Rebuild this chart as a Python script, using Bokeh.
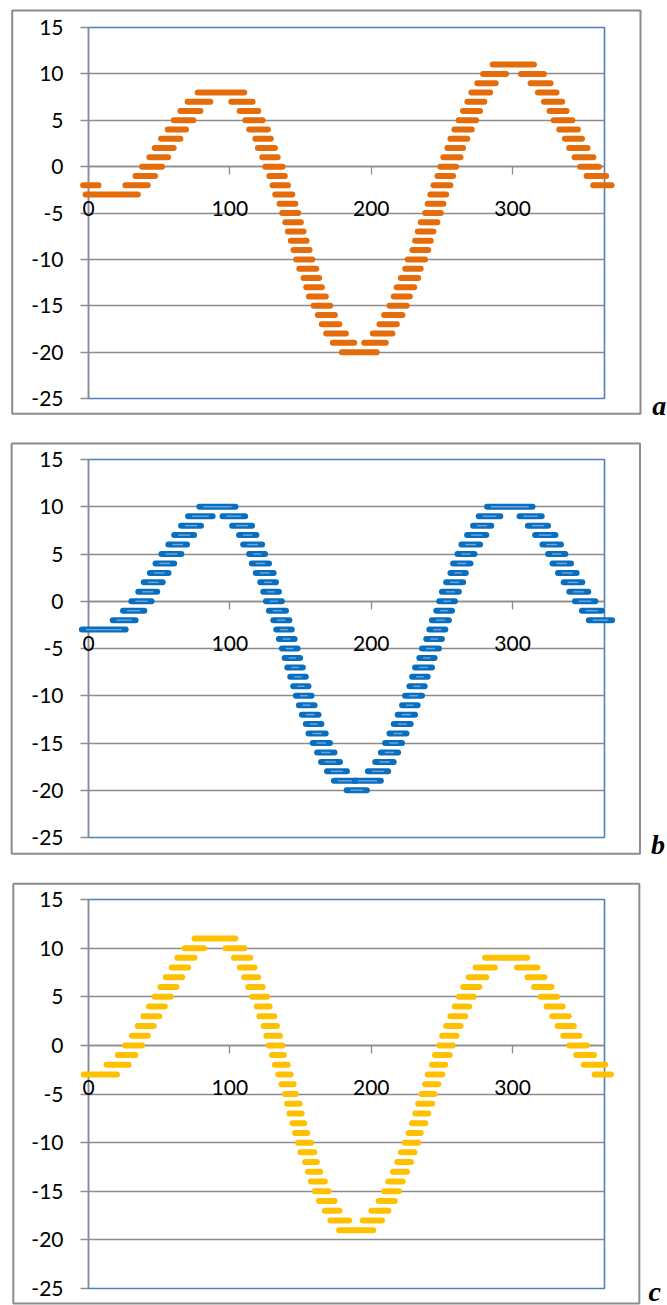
import numpy as np
from bokeh.plotting import figure
from bokeh.layouts import column
from bokeh.models import ColumnDataSource, Range1d, LinearAxis, Grid, FixedTicker
from bokeh.core.properties import value
from bokeh.embed import file_html
from bokeh.resources import INLINE

# ---------------- data ----------------
X_TICKS = [0, 100, 200, 300]
X_TICK_LABELS = ["0", "100", "200", "300"]
Y_TICKS = [-25, -20, -15, -10, -5, 0, 5, 10, 15]
Y_TICK_LABELS = ["-25", "-20", "-15", "-10", "-5", "0", "5", "10", "15"]
X_MAX = 365

# panel a: each dash = (level, visible start, visible end)
LEVEL_A = [-2, -3, -2, -1, 0, 1, 2, 3, 4, 5, 6, 7, 8,
           7, 6, 5, 4, 3, 2, 1, 0, -1, -2, -3, -4, -5, -6, -7, -8, -9, -10,
           -11, -12, -13, -14, -15, -16, -17, -18, -19, -20,
           -19, -18, -17, -16, -15, -14, -13, -12, -11, -10, -9, -8, -7, -6,
           -5, -4, -3, -2, -1, 0, 1, 2, 3, 4, 5, 6, 7, 8, 9, 10, 11,
           10, 9, 8, 7, 6, 5, 4, 3, 2, 1, 0, -1, -2]
START_A = [-5.9, -4.2, 24.0, 31.1, 35.8, 41.0, 44.7, 49.2, 53.9, 58.2, 62.9, 68.0, 75.1,
           98.9, 104.8, 108.8, 111.6, 115.9, 117.7, 120.8, 122.9, 125.8, 128.1, 130.0,
           133.0, 134.9, 137.1, 138.9, 141.0, 142.9, 144.8,
           147.0, 150.0, 151.9, 153.8, 157.1, 160.1, 162.9, 166.0, 170.7, 177.1,
           192.9, 199.0, 203.7, 207.0, 210.8, 213.8, 215.9, 218.8, 221.9, 223.7, 227.0,
           228.9, 230.8, 232.9,
           236.0, 237.8, 239.7, 241.9, 244.7, 246.8, 248.9, 251.7, 253.9, 256.7, 259.7,
           262.8, 265.9, 268.7, 272.9, 277.0, 283.8,
           303.8, 310.6, 315.8, 320.1, 324.0, 326.9, 330.9, 334.9, 337.9, 341.7, 345.7,
           350.2, 354.9]
END_A = [9.2, 37.0, 44.0, 49.2, 54.1, 58.4, 62.4, 67.1, 71.1, 76.3, 81.3, 88.3, 112.3,
         118.2, 122.2, 125.3, 129.0, 131.1, 134.0, 135.9, 139.4, 141.0, 143.2, 146.3,
         148.4, 150.5, 152.3, 154.2, 156.4, 158.5, 160.4,
         163.2, 165.3, 167.2, 170.0, 173.1, 176.4, 179.5, 184.2, 190.1, 206.0,
         212.4, 217.1, 220.2, 224.2, 227.2, 229.4, 232.5, 235.3, 237.1, 240.2, 242.4,
         244.2, 246.1, 248.9,
         251.3, 253.2, 255.1, 258.1, 260.0, 262.1, 265.2, 267.1, 270.1, 273.2, 276.3,
         279.1, 282.1, 286.2, 290.1, 297.5, 317.2,
         324.3, 329.0, 333.2, 337.2, 340.3, 344.3, 348.3, 351.2, 355.1, 359.2, 363.2,
         368.3, 372.1]

# panel b
LEVEL_B = [-3, -2, -1, 0, 1, 2, 3, 4, 5, 6, 7, 8, 9, 10,
           9, 8, 7, 6, 5, 4, 3, 2, 1, 0, -1, -2, -3, -4, -5, -6, -7, -8, -9, -10,
           -11, -12, -13, -14, -15, -16, -17, -18, -19, -20,
           -19, -18, -17, -16, -15, -14, -13, -12, -11, -10, -9, -8, -7, -6,
           -5, -4, -3, -2, -1, 0, 1, 2, 3, 4, 5, 6, 7, 8, 9, 10,
           9, 8, 7, 6, 5, 4, 3, 2, 1, 0, -1, -2]
START_B = [-6.8, 15.0, 22.3, 28.2, 33.1, 37.0, 41.3, 45.3, 49.5, 54.4, 58.5, 63.4, 68.3, 76.3,
           92.7, 99.5, 104.4, 107.3, 111.5, 113.4, 116.2, 119.4, 121.5, 123.4, 125.5, 128.6,
           130.7, 132.6, 134.7, 136.6, 138.5, 140.6, 142.7, 144.6,
           146.7, 148.8, 151.6, 153.5, 156.5, 159.6, 162.4, 166.6, 171.5, 180.5,
           185.6, 195.5, 200.7, 204.7, 207.7, 210.8, 213.8, 216.6, 219.7, 221.8, 224.9,
           226.8, 228.9, 231.9,
           233.8, 236.8, 239.0, 240.8, 243.9, 246.0, 247.9, 250.9, 253.9, 255.8, 258.9,
           261.7, 265.7, 269.9, 273.9, 279.8,
           302.8, 308.7, 313.8, 319.0, 323.0, 326.1, 330.0, 334.0, 338.0, 342.0, 346.9,
           351.8]
END_B = [28.4, 35.4, 41.6, 46.7, 50.7, 54.6, 58.7, 62.7, 67.8, 71.8, 76.8, 81.7, 89.9, 106.1,
         112.9, 117.8, 120.9, 124.9, 127.0, 129.8, 133.1, 134.7, 136.8, 138.9, 141.8, 144.2,
         145.9, 147.9, 150.0, 151.8, 153.7, 155.8, 157.7, 159.9,
         162.0, 164.8, 166.9, 169.9, 172.9, 176.1, 180.0, 184.9, 191.2, 199.0,
         208.9, 214.1, 218.0, 221.1, 223.9, 227.0, 230.0, 233.1, 234.9, 238.0, 239.9,
         242.0, 245.1, 246.9,
         250.0, 252.1, 254.5, 257.0, 259.2, 261.3, 264.1, 267.1, 269.0, 272.3, 275.1,
         279.1, 283.5, 287.0, 293.4, 316.2,
         322.7, 327.2, 332.4, 336.3, 339.4, 343.4, 347.4, 351.4, 355.6, 360.6, 365.2,
         372.5]

# panel c
LEVEL_C = [-3, -2, -1, 0, 1, 2, 3, 4, 5, 6, 7, 8, 9, 10, 11,
           10, 9, 8, 7, 6, 5, 4, 3, 2, 1, 0, -1, -2, -3, -4, -5, -6, -7, -8, -9, -10,
           -11, -12, -13, -14, -15, -16, -17, -18, -19,
           -18, -17, -16, -15, -14, -13, -12, -11, -10, -9, -8, -7, -6,
           -5, -4, -3, -2, -1, 0, 1, 2, 3, 4, 5, 6, 7, 8, 9,
           8, 7, 6, 5, 4, 3, 2, 1, 0, -1, -2, -3]
START_C = [-5.4, 10.7, 18.7, 23.8, 28.7, 32.8, 36.8, 40.7, 44.7, 48.7, 52.6, 56.8, 60.8, 65.9, 72.9,
           94.8, 100.8, 105.0, 108.1, 110.9, 113.7, 116.9, 118.8, 121.8, 123.7, 125.3, 127.7,
           129.8, 132.1, 134.4, 136.9, 138.4, 140.1, 142.2, 144.0, 146.1,
           147.9, 151.1, 153.2, 155.3, 158.0, 160.9, 165.1, 169.0, 175.2,
           191.9, 198.1, 203.2, 207.1, 210.0, 213.3, 216.3, 218.9, 221.6, 224.3, 226.7,
           229.1, 231.1,
           233.5, 236.0, 237.9, 240.9, 243.0, 246.0, 248.1, 250.9, 253.9, 257.0, 260.0,
           263.0, 266.9, 271.8, 278.4,
           301.0, 308.4, 313.1, 317.7, 321.9, 325.9, 329.8, 333.8, 338.0, 342.9, 348.3, 355.9]
END_C = [22.2, 30.5, 35.2, 40.0, 44.0, 48.2, 52.2, 56.1, 60.3, 64.3, 68.3, 72.5, 77.1, 83.9, 106.0,
         112.3, 116.5, 119.5, 122.1, 125.3, 128.4, 130.2, 133.5, 135.4, 137.5, 139.3, 140.2,
         143.0, 145.1, 147.2, 148.8, 151.4, 152.9, 154.7, 156.8, 159.5,
         161.8, 163.6, 166.0, 169.3, 172.0, 176.1, 179.7, 186.5, 203.5,
         209.7, 214.2, 218.7, 221.6, 224.3, 227.3, 230.2, 232.6, 235.3, 237.1, 240.3,
         242.4, 245.1,
         246.9, 249.5, 252.4, 254.4, 257.6, 259.7, 262.4, 265.3, 268.6, 271.4, 274.6,
         278.6, 283.5, 289.5, 312.4,
         319.6, 324.5, 329.6, 333.6, 337.5, 341.7, 345.4, 349.4, 354.5, 359.7, 367.6, 371.6]

# ---------------- styling / layout ----------------
W = 667
GRAY = "#8C8C8C"
BLUE_FRAME = "#4F81BD"
FONT = "Lato"

# canvas-pixel geometry of each panel (frame borders, outer box, letter position)
GEOM = {
    "a": dict(h=436, bl=88, br=63, bt=27, bb=38, ol=11.7, ot=10.0, orr=640.0, ob=413.3, lx=651.7, ly=404.5),
    "b": dict(h=440, bl=87, br=61, bt=23, bb=39, ol=9.7, ot=7.0, orr=641.7, ob=417.3, lx=652.7, ly=407.5),
    "c": dict(h=429, bl=85, br=59, bt=23, bb=17, ol=8.8, ot=7.3, orr=643.3, ob=427.0, lx=652.5, ly=414.5),
}


def style_axis(ax):
    ax.axis_line_color = GRAY
    ax.axis_line_width = 1.3
    ax.major_tick_line_color = GRAY
    ax.major_tick_line_width = 1.3
    ax.major_tick_out = 8
    ax.major_tick_in = 0
    ax.minor_tick_out = 0
    ax.minor_tick_in = 0
    ax.major_label_text_font = FONT
    ax.major_label_text_font_size = "21px"
    ax.major_label_text_color = "black"


def panel(level, start, end, color, g, letter, stripe=None):
    fw = W - g["bl"] - g["br"]
    fh = g["h"] - g["bt"] - g["bb"]
    sx = fw / X_MAX
    sy = fh / 40.0

    def cx(px):
        return (px - g["bl"]) / sx

    def cy(py):
        return 15 - (py - g["bt"]) / sy

    p = figure(width=W, height=g["h"], x_range=Range1d(0, X_MAX), y_range=Range1d(-25, 15),
               x_axis_type=None, y_axis_type=None, output_backend="svg", toolbar_location=None,
               min_border_left=g["bl"], min_border_right=g["br"],
               min_border_top=g["bt"], min_border_bottom=g["bb"])
    p.outline_line_color = BLUE_FRAME
    p.outline_line_width = 1.6
    p.background_fill_color = "white"
    p.border_fill_color = "white"

    grid = Grid(dimension=1, ticker=FixedTicker(ticks=Y_TICKS[1:-1]))
    grid.grid_line_color = GRAY
    grid.grid_line_width = 1.3
    p.add_layout(grid, "center")

    yax = LinearAxis(ticker=FixedTicker(ticks=Y_TICKS, minor_ticks=[]),
                     major_label_overrides=dict(zip(Y_TICKS, Y_TICK_LABELS)))
    style_axis(yax)
    yax.major_label_standoff = 17
    p.add_layout(yax, "left")

    # horizontal axis crossing at y = 0 (ticks only; its labels are drawn unclipped below)
    xax = LinearAxis(fixed_location=0, ticker=FixedTicker(ticks=X_TICKS, minor_ticks=[]),
                     major_label_overrides=dict(zip(X_TICKS, X_TICK_LABELS)))
    style_axis(xax)
    xax.major_label_text_alpha = 0
    p.add_layout(xax, "below")

    p.text(x=X_TICKS, y=[0] * len(X_TICKS), text=X_TICK_LABELS, text_font=value(FONT),
           text_font_size=value("21px"), text_color="black", text_align="center",
           text_baseline="middle", y_offset=42, level="overlay")

    cap = 3.0 / sx
    src = ColumnDataSource(dict(y=level, x0=np.array(start) + cap, x1=np.array(end) - cap))
    p.segment(x0="x0", y0="y", x1="x1", y1="y", source=src, line_color=color,
              line_width=6, line_cap="round", level="overlay")
    if stripe is not None:
        inset = 7.0 / sx
        src2 = ColumnDataSource(dict(y=level, x0=np.array(start) + inset, x1=np.array(end) - inset))
        p.segment(x0="x0", y0="y", x1="x1", y1="y", source=src2, line_color=stripe,
                  line_width=1.4, level="overlay")

    # outer chart-area border (drawn unclipped in the overlay level)
    p.quad(left=[cx(g["ol"])], right=[cx(g["orr"])], top=[cy(g["ot"])], bottom=[cy(g["ob"])],
           fill_color=None, line_color=GRAY, line_width=2, level="overlay")

    # panel letter
    p.text(x=[cx(g["lx"])], y=[cy(g["ly"])], text=[letter], text_font=value("Liberation Serif"),
           text_font_style="bold italic", text_font_size=value("28px"), text_color="black",
           text_align="left", text_baseline="alphabetic", level="overlay")
    return p


pa = panel(LEVEL_A, START_A, END_A, "#E46C0A", GEOM["a"], "a")
pb = panel(LEVEL_B, START_B, END_B, "#0A6EBF", GEOM["b"], "b", stripe="#6FA6DC")
pc = panel(LEVEL_C, START_C, END_C, "#FFC000", GEOM["c"], "c")

layout = column(pa, pb, pc, spacing=0)
open("out.html", "w").write(file_html(layout, INLINE))
